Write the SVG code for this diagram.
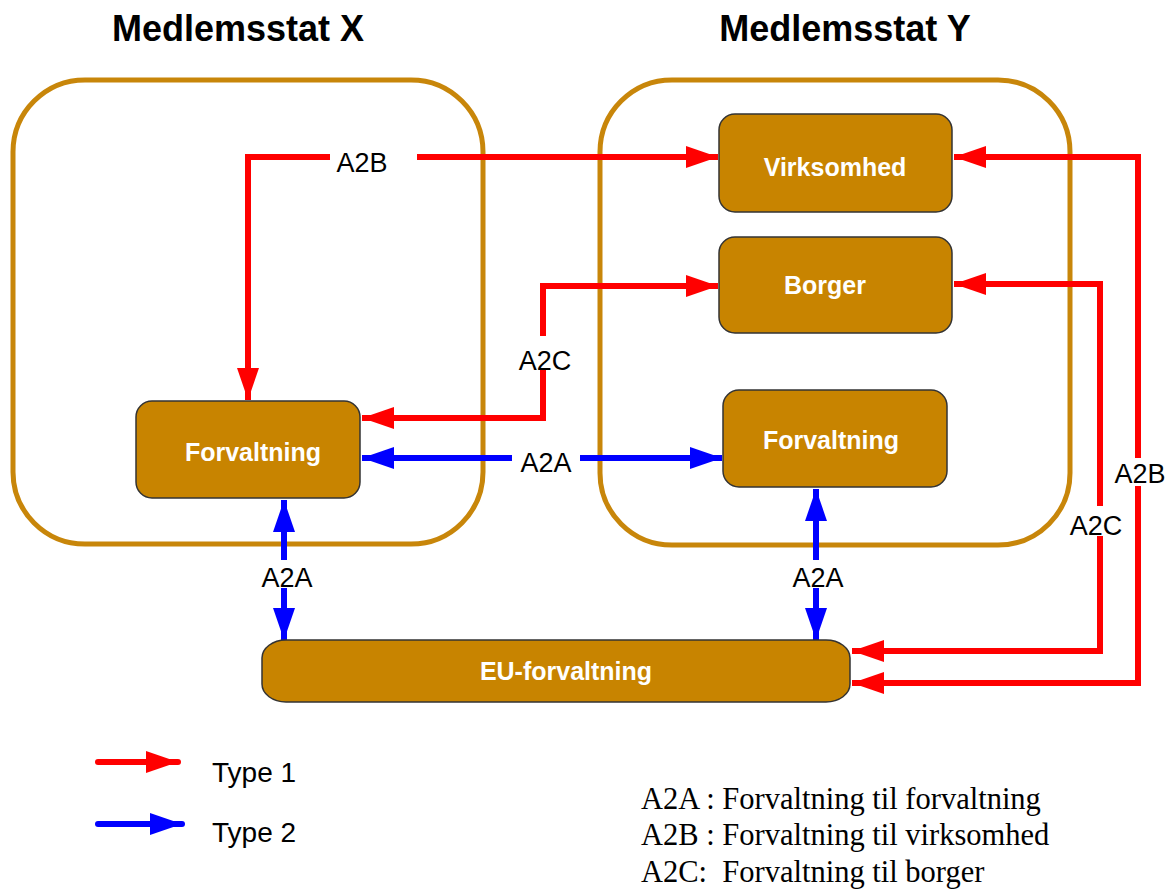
<svg xmlns="http://www.w3.org/2000/svg" width="1176" height="890" viewBox="0 0 1176 890">
<style>
.title{font-family:"Liberation Sans",Arial,sans-serif;font-weight:bold;font-size:36px;fill:#000;text-anchor:middle}
.cont{fill:none;stroke:#C8860A;stroke-width:5}
.box{fill:#C88400;stroke:#333;stroke-width:1.5}
.bt{font-family:"Liberation Sans",Arial,sans-serif;font-weight:bold;font-size:25px;fill:#fff;text-anchor:middle}
.lbl{font-family:"Liberation Sans",Arial,sans-serif;font-size:27px;fill:#000;text-anchor:middle}
.red{fill:none;stroke:#FF0000;stroke-width:6}
.blue{fill:none;stroke:#0000FF;stroke-width:6}
.leg{font-family:"Liberation Sans",Arial,sans-serif;font-size:28px;fill:#000}
.ser{font-family:"Liberation Serif","Times New Roman",serif;font-size:30.5px;fill:#000}
</style>
<defs>
<marker id="ar" markerUnits="userSpaceOnUse" markerWidth="32" markerHeight="22" refX="32" refY="11" orient="auto-start-reverse" viewBox="0 0 32 22">
<path d="M0,0 L32,11 L0,22 z" fill="#FF0000"/>
</marker>
<marker id="ab" markerUnits="userSpaceOnUse" markerWidth="32" markerHeight="22" refX="32" refY="11" orient="auto-start-reverse" viewBox="0 0 32 22">
<path d="M0,0 L32,11 L0,22 z" fill="#0000FF"/>
</marker>
</defs>
<rect width="1176" height="890" fill="#fff"/>

<g id="stateX">
<text class="title" x="238" y="41">Medlemsstat X</text>
<rect class="cont" x="13" y="80" width="470" height="464" rx="72"/>
</g>
<g id="stateY">
<text class="title" x="845" y="41">Medlemsstat Y</text>
<rect class="cont" x="600" y="80" width="470" height="465" rx="72"/>
</g>

<g id="connectors">
<path class="red" d="M330,157 H248 V400" marker-end="url(#ar)"/>
<path class="red" d="M417,157 H718" marker-end="url(#ar)"/>
<text class="lbl" x="362" y="172">A2B</text>
<path class="red" d="M543,370 V418 H362" marker-end="url(#ar)"/>
<path class="red" d="M543,336 V286 H718" marker-end="url(#ar)"/>
<text class="lbl" x="545" y="370">A2C</text>
<path class="blue" d="M512,458 H362" marker-end="url(#ab)"/>
<path class="blue" d="M580,458 H722" marker-end="url(#ab)"/>
<text class="lbl" x="546" y="472">A2A</text>
<path class="blue" d="M284,560 V500" marker-end="url(#ab)"/>
<path class="blue" d="M284,588 V640" marker-end="url(#ab)"/>
<text class="lbl" x="287" y="587">A2A</text>
<path class="blue" d="M816,560 V489" marker-end="url(#ab)"/>
<path class="blue" d="M816,588 V640" marker-end="url(#ab)"/>
<text class="lbl" x="818" y="587">A2A</text>
<path class="red" d="M1138,458 V157 H954" marker-end="url(#ar)"/>
<path class="red" d="M1138,486 V683 H852" marker-end="url(#ar)"/>
<text class="lbl" x="1140" y="483">A2B</text>
<path class="red" d="M1100,506 V284 H954" marker-end="url(#ar)"/>
<path class="red" d="M1100,536 V651 H852" marker-end="url(#ar)"/>
<text class="lbl" x="1096" y="535">A2C</text>
</g>

<g id="forvaltningX">
<rect class="box" x="136" y="401" width="224" height="97" rx="16"/>
<text class="bt" x="253" y="461">Forvaltning</text>
</g>
<g id="virksomhed">
<rect class="box" x="719" y="114" width="233" height="98" rx="16"/>
<text class="bt" x="835" y="176">Virksomhed</text>
</g>
<g id="borger">
<rect class="box" x="719" y="237" width="233" height="96" rx="16"/>
<text class="bt" x="825" y="294">Borger</text>
</g>
<g id="forvaltningY">
<rect class="box" x="723" y="390" width="224" height="97" rx="16"/>
<text class="bt" x="831" y="449">Forvaltning</text>
</g>
<g id="euForvaltning">
<rect class="box" x="262" y="640" width="588" height="62" rx="24" ry="18"/>
<text class="bt" x="566" y="680">EU-forvaltning</text>
</g>

<g id="legend">
<path class="red" d="M98,762 H178" stroke-linecap="round" marker-end="url(#ar)"/>
<text class="leg" x="212" y="782">Type 1</text>
<path class="blue" d="M98,824 H182" stroke-linecap="round" marker-end="url(#ab)"/>
<text class="leg" x="212" y="842">Type 2</text>
<text class="ser" x="641" y="809">A2A : Forvaltning til forvaltning</text>
<text class="ser" x="641" y="845">A2B : Forvaltning til virksomhed</text>
<text class="ser" x="641" y="882" xml:space="preserve">A2C:  Forvaltning til borger</text>
</g>
</svg>
